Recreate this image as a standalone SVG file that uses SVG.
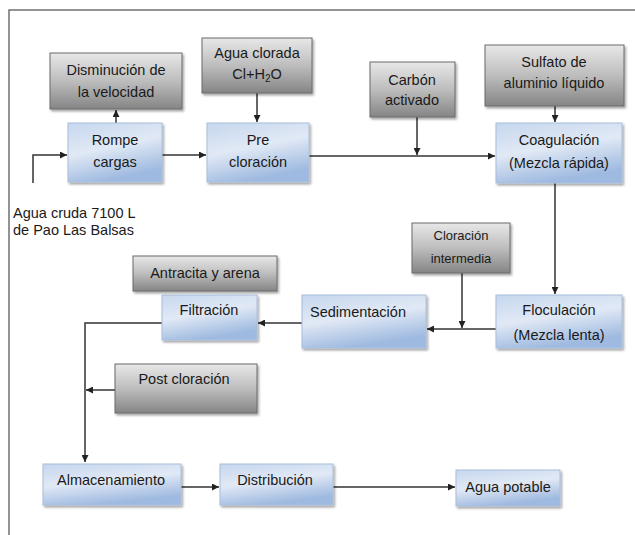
<svg xmlns="http://www.w3.org/2000/svg" width="635" height="535" viewBox="0 0 635 535">
<style>
text{font-family:"Liberation Sans",Arial,sans-serif;font-size:14.5px;fill:#1a1a1a;text-anchor:middle}
.g{fill:url(#gg);stroke:#6a6a6a;stroke-width:1}
.b{fill:url(#bg);stroke:#a8bedc;stroke-width:1}
.c{fill:none;stroke:#333;stroke-width:1.5}
.sm{font-size:13px}
</style>
<defs>
<linearGradient id="gg" x1="0" y1="0" x2="0" y2="1">
<stop offset="0" stop-color="#e8e8e8"/>
<stop offset="0.5" stop-color="#bdbdbd"/>
<stop offset="1" stop-color="#858585"/>
</linearGradient>
<linearGradient id="bg" x1="0" y1="0" x2="0.35" y2="1">
<stop offset="0" stop-color="#c6d7ee"/>
<stop offset="0.5" stop-color="#e1e9f5"/>
<stop offset="1" stop-color="#9fbae0"/>
</linearGradient>
<filter id="sh" x="-10%" y="-10%" width="125%" height="130%">
<feDropShadow dx="1.5" dy="2" stdDeviation="1.2" flood-color="#000" flood-opacity="0.35"/>
</filter>
<marker id="ah" viewBox="0 0 10 10" refX="10" refY="5" markerWidth="7" markerHeight="7" markerUnits="userSpaceOnUse" orient="auto">
<path d="M0,0 L10,5 L0,10 z" fill="#222"/>
</marker>
</defs>
<rect width="635" height="535" fill="#fff"/>
<path d="M9,535 V10 H635" fill="none" stroke="#707070" stroke-width="1.5"/>

<g id="connectors">
<path class="c" d="M33,183 V155 H67" marker-end="url(#ah)"/>
<path class="c" d="M116,123 V110" marker-end="url(#ah)"/>
<path class="c" d="M162,155 H206" marker-end="url(#ah)"/>
<path class="c" d="M257,93 V122" marker-end="url(#ah)"/>
<path class="c" d="M309,156 H495" marker-end="url(#ah)"/>
<path class="c" d="M417,117 V155" marker-end="url(#ah)"/>
<path class="c" d="M555,106 V122" marker-end="url(#ah)"/>
<path class="c" d="M555,183 V294" marker-end="url(#ah)"/>
<path class="c" d="M496,329 H427" marker-end="url(#ah)"/>
<path class="c" d="M462,273 V328" marker-end="url(#ah)"/>
<path class="c" d="M302,323 H258" marker-end="url(#ah)"/>
<path class="c" d="M162,323 H85 V462" marker-end="url(#ah)"/>
<path class="c" d="M115,390 H86" marker-end="url(#ah)"/>
<path class="c" d="M181,487 H219" marker-end="url(#ah)"/>
<path class="c" d="M333,487 H455" marker-end="url(#ah)"/>
</g>

<g id="disminucion"><rect class="g" x="50" y="53" width="132" height="56" filter="url(#sh)"/><text x="116" y="75">Disminución de</text><text x="116" y="97">la velocidad</text></g>
<g id="agua-clorada"><rect class="g" x="202" y="38" width="110" height="55" filter="url(#sh)"/><text x="257" y="58">Agua clorada</text><text x="257" y="79">Cl+H<tspan font-size="10" dy="3">2</tspan><tspan dy="-3">O</tspan></text></g>
<g id="rompe"><rect class="b" x="68" y="123" width="94" height="59" filter="url(#sh)"/><text x="115" y="145">Rompe</text><text x="115" y="167">cargas</text></g>
<g id="pre"><rect class="b" x="207" y="123" width="102" height="59" filter="url(#sh)"/><text x="258" y="145">Pre</text><text x="258" y="167">cloración</text></g>
<g id="carbon"><rect class="g" x="370" y="62" width="85" height="55" filter="url(#sh)"/><text x="412" y="85">Carbón</text><text x="412" y="105">activado</text></g>
<g id="sulfato"><rect class="g" x="485" y="45" width="139" height="61" filter="url(#sh)"/><text x="554" y="67">Sulfato de</text><text x="554" y="88">aluminio líquido</text></g>
<g id="coagulacion"><rect class="b" x="496" y="123" width="126" height="60" filter="url(#sh)"/><text x="559" y="145">Coagulación</text><text x="559" y="168">(Mezcla rápida)</text></g>
<g id="agua-cruda"><text x="13" y="218" style="text-anchor:start">Agua cruda 7100 L</text><text x="13" y="235" style="text-anchor:start">de Pao Las Balsas</text></g>
<g id="cloracion-intermedia"><rect class="g" x="412" y="223" width="98" height="50" filter="url(#sh)"/><text class="sm" x="461" y="240">Cloración</text><text class="sm" x="461" y="263">intermedia</text></g>
<g id="floculacion"><rect class="b" x="496" y="295" width="126" height="53" filter="url(#sh)"/><text x="559" y="315">Floculación</text><text x="559" y="340">(Mezcla lenta)</text></g>
<g id="sedimentacion"><rect class="b" x="302" y="295" width="124" height="53" filter="url(#sh)"/><text x="358" y="317">Sedimentación</text></g>
<g id="antracita"><rect class="g" x="133" y="256" width="144" height="35" filter="url(#sh)"/><text x="205" y="278">Antracita y arena</text></g>
<g id="filtracion"><rect class="b" x="162" y="295" width="95" height="45" filter="url(#sh)"/><text x="209" y="315">Filtración</text></g>
<g id="post-cloracion"><rect class="g" x="115" y="364" width="142" height="49" filter="url(#sh)"/><text x="184" y="384">Post cloración</text></g>
<g id="almacenamiento"><rect class="b" x="43" y="464" width="138" height="41" filter="url(#sh)"/><text x="111" y="485">Almacenamiento</text></g>
<g id="distribucion"><rect class="b" x="220" y="464" width="113" height="41" filter="url(#sh)"/><text x="275" y="485">Distribución</text></g>
<g id="agua-potable"><rect class="b" x="456" y="470" width="104" height="36" filter="url(#sh)"/><text x="508" y="492">Agua potable</text></g>
</svg>
